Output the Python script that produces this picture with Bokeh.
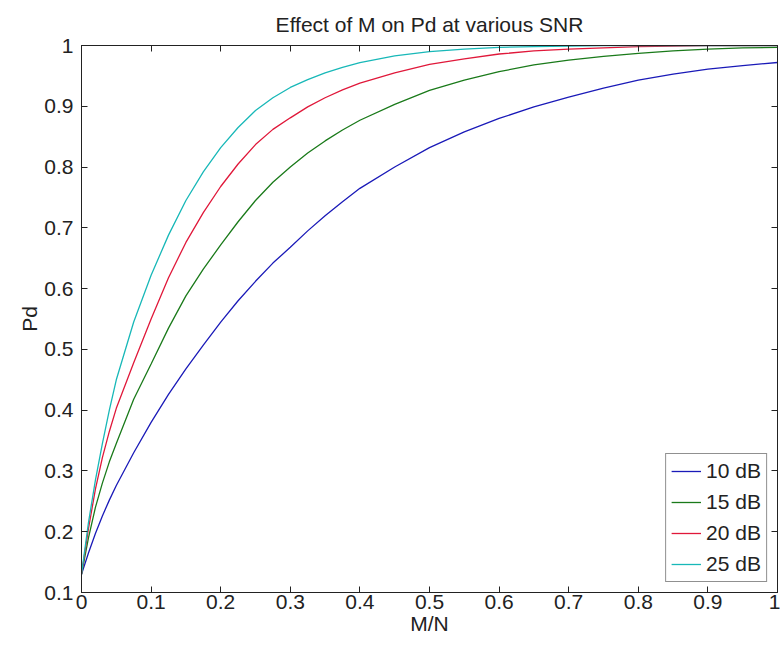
from bokeh.plotting import figure
from bokeh.models import LinearAxis, Legend, LegendItem, FixedTicker, Range1d
from bokeh.embed import file_html
from bokeh.resources import INLINE

# ---- data ----
m_over_n = [0, 0.01, 0.02, 0.03, 0.04, 0.05, 0.075, 0.1, 0.125, 0.15, 0.175, 0.2,
            0.225, 0.25, 0.275, 0.3, 0.325, 0.35, 0.375, 0.4, 0.45, 0.5, 0.55, 0.6,
            0.65, 0.7, 0.75, 0.8, 0.85, 0.9, 0.95, 1.0]
pd_10db = [0.13, 0.165, 0.197, 0.226, 0.252, 0.276, 0.33, 0.38, 0.426, 0.468, 0.507, 0.545,
           0.58, 0.612, 0.642, 0.668, 0.695, 0.72, 0.743, 0.765, 0.80, 0.832, 0.858, 0.88,
           0.899, 0.915, 0.93, 0.943, 0.953, 0.961, 0.967, 0.972]
pd_15db = [0.13, 0.19, 0.24, 0.28, 0.315, 0.345, 0.418, 0.476, 0.535, 0.588, 0.632, 0.672,
           0.71, 0.745, 0.775, 0.80, 0.823, 0.843, 0.861, 0.877, 0.903, 0.926, 0.943, 0.957,
           0.968, 0.976, 0.982, 0.987, 0.991, 0.994, 0.996, 0.997]
pd_20db = [0.13, 0.205, 0.27, 0.322, 0.365, 0.403, 0.478, 0.55, 0.618, 0.676, 0.725, 0.768,
           0.805, 0.837, 0.862, 0.881, 0.899, 0.914, 0.927, 0.938, 0.955, 0.969, 0.978, 0.986,
           0.991, 0.994, 0.996, 0.998, 0.999, 1.0, 1.0, 1.0]
pd_25db = [0.13, 0.215, 0.285, 0.345, 0.40, 0.45, 0.545, 0.622, 0.688, 0.745, 0.792, 0.832,
           0.865, 0.893, 0.914, 0.931, 0.944, 0.955, 0.964, 0.972, 0.983, 0.99, 0.994, 0.997,
           0.998, 0.999, 1.0, 1.0, 1.0, 1.0, 1.0, 1.0]

series_labels = ["10 dB", "15 dB", "20 dB", "25 dB"]
series_values = [pd_10db, pd_15db, pd_20db, pd_25db]
series_colors = ["#1a1ab8", "#1a7a1a", "#e0183a", "#18b8b8"]

x_ticks = [0, 0.1, 0.2, 0.3, 0.4, 0.5, 0.6, 0.7, 0.8, 0.9, 1]
x_tick_labels = ["0", "0.1", "0.2", "0.3", "0.4", "0.5", "0.6", "0.7", "0.8", "0.9", "1"]
y_ticks = [0.1, 0.2, 0.3, 0.4, 0.5, 0.6, 0.7, 0.8, 0.9, 1]
y_tick_labels = ["0.1", "0.2", "0.3", "0.4", "0.5", "0.6", "0.7", "0.8", "0.9", "1"]

FONT = "Liberation Sans"
FS = "21px"
INK = "#222222"

p = figure(width=780, height=646, output_backend="svg", toolbar_location=None,
           x_range=Range1d(0, 1), y_range=Range1d(0.1, 1),
           min_border_left=81, min_border_right=3, min_border_top=44, min_border_bottom=54,
           title="Effect of M on Pd at various SNR")
p.title.align = "center"
p.title.text_font = FONT
p.title.text_font_size = FS
p.title.text_font_style = "normal"
p.title.text_color = INK
p.title.standoff = 20
p.background_fill_color = "white"
p.border_fill_color = "white"
p.outline_line_color = INK
p.outline_line_width = 1
p.xgrid.visible = False
p.ygrid.visible = False

for ax, ticks, labels in ((p.xaxis[0], x_ticks, x_tick_labels), (p.yaxis[0], y_ticks, y_tick_labels)):
    ax.ticker = FixedTicker(ticks=ticks)
    ax.major_label_overrides = {t: l for t, l in zip(ticks, labels)}
    ax.major_tick_in = 6
    ax.major_tick_out = 0
    ax.minor_tick_line_color = None
    ax.major_label_text_font = FONT
    ax.major_label_text_font_size = FS
    ax.major_label_text_color = INK
    ax.axis_label_text_font = FONT
    ax.axis_label_text_font_size = FS
    ax.axis_label_text_font_style = "normal"
    ax.axis_label_text_color = INK
    ax.axis_line_color = INK
    ax.major_tick_line_color = INK

p.xaxis.axis_label = "M/N"
p.yaxis.axis_label = "Pd"
p.xaxis.major_label_standoff = 2
p.xaxis.axis_label_standoff = 0
p.yaxis.major_label_standoff = 8
p.yaxis.axis_label_standoff = 0

# mirrored ticks on top and right (no labels)
for loc, ticks in (("above", x_ticks), ("right", y_ticks)):
    ax = LinearAxis(ticker=FixedTicker(ticks=ticks))
    ax.major_label_overrides = {t: "" for t in ticks}
    ax.major_tick_in = 6
    ax.major_tick_out = 0
    ax.minor_tick_line_color = None
    ax.major_label_standoff = 0
    ax.axis_line_color = INK
    ax.major_tick_line_color = INK
    p.add_layout(ax, loc)

items = []
for lab, vals, col in zip(series_labels, series_values, series_colors):
    r = p.line(m_over_n, vals, line_color=col, line_width=1.3)
    items.append(LegendItem(label=lab, renderers=[r]))

legend = Legend(items=items, location="bottom_right")
legend.label_text_font = FONT
legend.label_text_font_size = FS
legend.label_text_color = INK
legend.glyph_width = 30
legend.glyph_height = 20
legend.label_height = 20
legend.label_standoff = 5
legend.spacing = 7
legend.padding = 5
legend.margin = 10
legend.border_line_color = INK
legend.border_line_width = 1
legend.background_fill_alpha = 1
p.add_layout(legend)

open("out.html", "w").write(file_html(p, INLINE))
